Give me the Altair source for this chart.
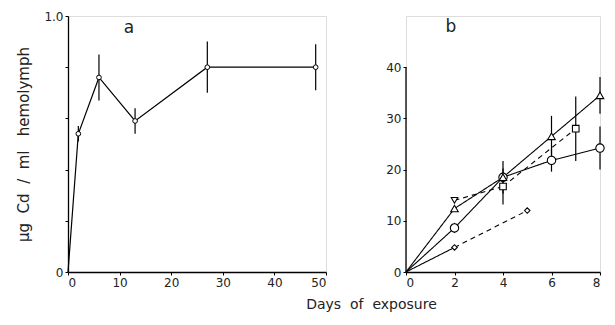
import altair as alt
import pandas as pd

# ---------------- data ----------------
# Panel a: haemolymph Cd over 48 days
a_days = [0, 2, 6, 13, 27, 48]
a_cd = [0.0, 0.54, 0.76, 0.59, 0.80, 0.80]
a_err = [0.0, 0.03, 0.09, 0.05, 0.10, 0.09]

# Panel b: four series over 8 days
b_circle_days = [0, 2, 4, 6, 8]
b_circle_cd = [0.0, 8.6, 18.5, 21.8, 24.2]
b_circle_err = [0.0, 1.0, 3.2, 2.2, 4.2]

b_triangle_days = [0, 2, 4, 6, 8]
b_triangle_cd = [0.0, 12.4, 18.5, 26.5, 34.5]
b_triangle_err = [0.0, 0.0, 0.0, 4.0, 3.6]

b_square_days = [2, 4, 7]
b_square_cd = [14.0, 16.7, 28.0]
b_square_err = [0.0, 3.5, 6.3]

b_diamond_days = [0, 2, 5]
b_diamond_cd = [0.0, 4.8, 12.0]
b_diamond_err = [0.0, 0.0, 0.0]

a_x_ticks = [0, 10, 20, 30, 40, 50]
a_y_ticks = [0, 0.1, 0.2, 0.3, 0.4, 0.5, 0.6, 0.7, 0.8, 0.9, 1.0]
b_x_ticks = [0, 2, 4, 6, 8]
b_y_ticks = [0, 10, 20, 30, 40]

y_title = "\u00b5g\u00a0\u00a0Cd\u00a0\u00a0/\u00a0\u00a0ml\u00a0\u00a0\u00a0hemolymph"
x_title = "Days\u00a0\u00a0of\u00a0\u00a0exposure"

# ---------------- styles ----------------
FONT = "DejaVu Sans"
seg_style = {
    "circle": ["solid"] * 4,
    "triangle": ["solid"] * 4,
    "square": ["dashed"] * 2,
    "diamond": ["solid", "dashed"],
}
marker_override = {("square", 0): "triangle-down"}
shape_of = {"circle": "circle", "triangle": "triangle-up", "square": "square", "diamond": "diamond"}

# ---------------- tables ----------------
series_b = {
    "circle": (b_circle_days, b_circle_cd, b_circle_err),
    "triangle": (b_triangle_days, b_triangle_cd, b_triangle_err),
    "square": (b_square_days, b_square_cd, b_square_err),
    "diamond": (b_diamond_days, b_diamond_cd, b_diamond_err),
}

seg_rows, pt_rows, err_rows = [], [], []
for name, (d, v, e) in series_b.items():
    for i in range(len(d) - 1):
        seg_rows.append(dict(series=name, x=d[i], y=v[i], x2=d[i + 1], y2=v[i + 1], style=seg_style[name][i]))
    for i in range(len(d)):
        if d[i] > 0:
            pt_rows.append(dict(series=name, x=d[i], y=v[i],
                                shape=marker_override.get((name, i), shape_of[name])))
        if e[i] > 0:
            err_rows.append(dict(series=name, x=d[i], lo=v[i] - e[i], hi=v[i] + e[i]))

seg_b = pd.DataFrame(seg_rows)
pts_b = pd.DataFrame(pt_rows)
err_b = pd.DataFrame(err_rows)

df_a = pd.DataFrame(dict(x=a_days, y=a_cd, lo=[c - e for c, e in zip(a_cd, a_err)],
                         hi=[c + e for c, e in zip(a_cd, a_err)], err=a_err))

axis_common = dict(
    domainColor="black", domainWidth=1.3, tickColor="black", tickSize=3, tickWidth=1,
    labelFont=FONT, labelFontSize=12, labelColor="#222", grid=False, labelPadding=2,
    labelOverlap=False,
)

PLOT_H = 256

# ---------------- panel a ----------------
xa = alt.X("x:Q", scale=alt.Scale(domain=[0, 50], nice=False),
           axis=alt.Axis(values=a_x_ticks, title=None, **axis_common))
ya = alt.Y("y:Q", scale=alt.Scale(domain=[0, 1], nice=False),
           axis=alt.Axis(values=a_y_ticks, title=y_title, titleFont=FONT, titleFontSize=15,
                         titleFontWeight="normal", titleColor="#222", titlePadding=12,
                         labelExpr="datum.value == 0 ? '0' : (abs(datum.value - 0.5) < 0.001 || abs(datum.value - 1) < 0.001) ? format(datum.value, '.1f') : ''",
                         **axis_common))

line_a = alt.Chart(df_a).mark_line(color="black", strokeWidth=1.2).encode(x=xa, y=ya)
err_a = alt.Chart(df_a).transform_filter("datum.err > 0").mark_rule(color="black", strokeWidth=1.2).encode(
    x="x:Q", y="lo:Q", y2="hi:Q")
pts_a = alt.Chart(df_a).transform_filter("datum.x > 0").mark_point(
    shape="circle", size=22, filled=True, fill="white", stroke="black", strokeWidth=1, opacity=1).encode(
    x="x:Q", y="y:Q")
lab_a = alt.Chart(pd.DataFrame({"t": ["a"]})).mark_text(
    font=FONT, fontSize=17, color="#222", align="center", baseline="middle").encode(
    x=alt.value(61), y=alt.value(12), text="t:N")

panel_a = alt.layer(line_a, err_a, pts_a, lab_a).properties(width=258, height=PLOT_H)

# ---------------- panel b ----------------
xb = alt.X("x:Q", scale=alt.Scale(domain=[0, 8], nice=False),
           axis=alt.Axis(values=b_x_ticks, title=x_title, titleFont=FONT, titleFontSize=14,
                         titleFontWeight="normal", titleColor="#222", titleX=-35, titleY=25,
                         titleBaseline="top", **axis_common))
yb = alt.Y("y:Q", scale=alt.Scale(domain=[0, 50], nice=False),
           axis=alt.Axis(values=b_y_ticks, title=None, domain=False, **axis_common))

yaxis_line = alt.Chart(pd.DataFrame({"k": [0]})).mark_rule(color="black", strokeWidth=1.3).encode(
    x=alt.value(0), y=alt.datum(0, scale=alt.Scale(domain=[0, 50], nice=False)), y2=alt.datum(40))

lines_b = alt.Chart(seg_b).mark_rule(color="black", strokeWidth=1.1).encode(
    x=xb, y=yb, x2="x2:Q", y2="y2:Q",
    strokeDash=alt.StrokeDash("style:N", scale=alt.Scale(domain=["solid", "dashed"], range=[[1, 0], [5, 4]]),
                              legend=None))
errs_b = alt.Chart(err_b).mark_rule(color="black", strokeWidth=1.2).encode(x="x:Q", y="lo:Q", y2="hi:Q")
marks_b = alt.Chart(pts_b).mark_point(filled=True, fill="white", stroke="black", strokeWidth=1.1, opacity=1).encode(
    x="x:Q", y="y:Q",
    shape=alt.Shape("shape:N", scale=None),
    size=alt.Size("series:N", scale=alt.Scale(domain=["circle", "triangle", "square", "diamond"],
                                               range=[70, 30, 45, 40]), legend=None))
lab_b = alt.Chart(pd.DataFrame({"t": ["b"]})).mark_text(
    font=FONT, fontSize=17, color="#222", align="center", baseline="middle").encode(
    x=alt.value(45), y=alt.value(11), text="t:N")

panel_b = alt.layer(lines_b, yaxis_line, errs_b, marks_b, lab_b).properties(width=194, height=PLOT_H)

chart = alt.hconcat(panel_a, panel_b, spacing=80, bounds="flush").properties(
    padding={"left": 8, "top": 1, "right": 0, "bottom": 0}
).configure_view(stroke=None).configure(background="white")

chart.save("out.html", embed_options={"renderer": "svg", "actions": False})
